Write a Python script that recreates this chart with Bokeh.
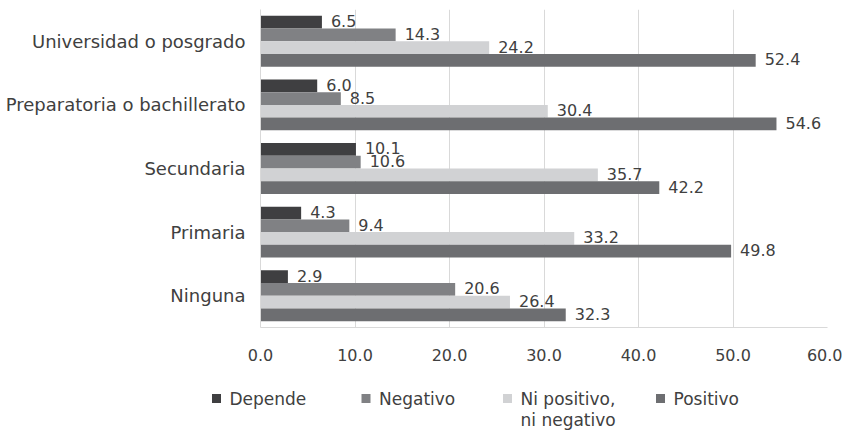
from bokeh.plotting import figure
from bokeh.layouts import column, row
from bokeh.models import ColumnDataSource, FactorRange, Range1d, FixedTicker, CustomJSTickFormatter
from bokeh.transform import dodge
from bokeh.core.properties import value
from bokeh.embed import file_html
from bokeh.resources import INLINE

categories = ["Ninguna", "Primaria", "Secundaria", "Preparatoria o bachillerato", "Universidad o posgrado"]
series_names = ["Depende", "Negativo", "Ni positivo,\nni negativo", "Positivo"]
depende = [2.9, 4.3, 10.1, 6.0, 6.5]
negativo = [20.6, 9.4, 10.6, 8.5, 14.3]
ni_pos_ni_neg = [26.4, 33.2, 35.7, 30.4, 24.2]
positivo = [32.3, 49.8, 42.2, 54.6, 52.4]
x_ticks = [0, 10, 20, 30, 40, 50, 60]

colors = ["#3f3f41", "#808184", "#d1d2d4", "#6d6e71"]
offsets = [0.3, 0.1, -0.1, -0.3]
FONT = "DejaVu Sans"
TXT = "#404040"

W = 842
H_MAIN, H_LEG = 372, 58
LEFT, RIGHT, TOP, BOTTOM = 260, 15, 9, 45

src = ColumnDataSource(dict(cat=categories, d=depende, n=negativo, ni=ni_pos_ni_neg, p=positivo,
                            dl=[f"{v:.1f}" for v in depende], nl=[f"{v:.1f}" for v in negativo],
                            nil=[f"{v:.1f}" for v in ni_pos_ni_neg], pl=[f"{v:.1f}" for v in positivo]))

p = figure(width=W, height=H_MAIN, y_range=FactorRange(*categories),
           x_range=Range1d(x_ticks[0], x_ticks[-1]),
           output_backend="svg", toolbar_location=None,
           min_border_left=LEFT, min_border_right=RIGHT, min_border_top=TOP, min_border_bottom=BOTTOM)

cols = ["d", "n", "ni", "p"]
labs = ["dl", "nl", "nil", "pl"]
for c, lab, col, off in zip(cols, labs, colors, offsets):
    p.hbar(y=dodge("cat", off, range=p.y_range), right=c, left=0, height=0.2,
           source=src, fill_color=col, line_color=None)
    p.text(x=c, y=dodge("cat", off, range=p.y_range), text=lab, source=src,
           x_offset=9, y_offset=-1, text_baseline="middle", text_align="left",
           text_font=value(FONT), text_font_size="16px", text_color=TXT)

p.outline_line_color = None
p.ygrid.grid_line_color = None
p.xgrid.grid_line_color = "#d9d9d9"
p.xgrid.ticker = FixedTicker(ticks=x_ticks)
p.xaxis.ticker = FixedTicker(ticks=x_ticks)
p.xaxis.formatter = CustomJSTickFormatter(code="return tick.toFixed(1);")
for ax in (p.xaxis, p.yaxis):
    ax.axis_line_color = "#d9d9d9"
    ax.major_tick_line_color = None
    ax.minor_tick_line_color = None
    ax.major_label_text_font = FONT
    ax.major_label_text_color = TXT
p.xaxis.major_label_text_font_size = "16px"
p.yaxis.major_label_text_font_size = "18px"
p.xaxis.major_label_standoff = 15
p.yaxis.major_label_standoff = 9

# legend strip (pixel coordinates: x from left, y from top of strip)
leg = figure(width=W, height=H_LEG, x_range=Range1d(0, W), y_range=Range1d(H_LEG, 0),
             output_backend="svg", toolbar_location=None,
             min_border_left=0, min_border_right=0, min_border_top=0, min_border_bottom=0)
leg.axis.visible = False
leg.grid.visible = False
leg.outline_line_color = None
leg_sq = [216, 365.5, 507, 660]
sq_y = [26] * 4
leg.scatter(x=leg_sq, y=sq_y, marker="square", size=9, fill_color=colors, line_color=None)
leg.text(x=[x + 13 for x in leg_sq], y=[y - 10 for y in sq_y], text=series_names,
         text_baseline="top", text_align="left", text_font=value(FONT), text_font_size="17px",
         text_color=TXT, text_line_height=1.08)

layout = column(p, row(leg), spacing=0)
open("out.html", "w").write(file_html(layout, INLINE))
